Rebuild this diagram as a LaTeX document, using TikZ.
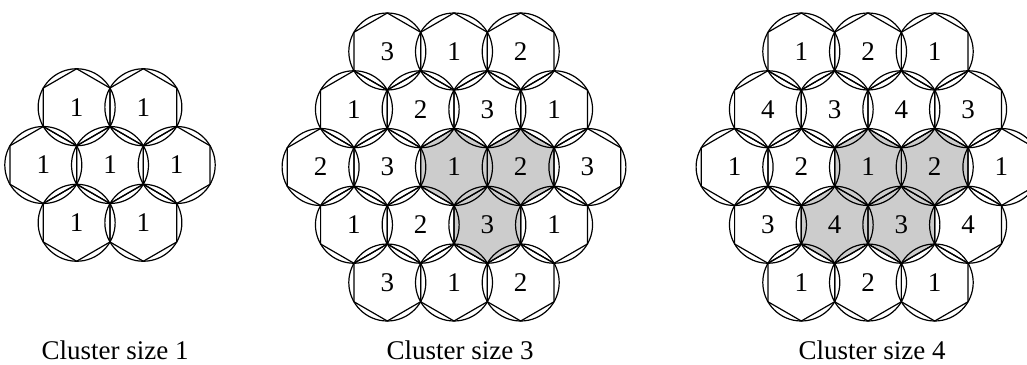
\documentclass[tikz,border=0pt]{standalone}
\usepackage{fontspec}
\setmainfont{Liberation Serif}

\tikzset{
  cellline/.style={line width=0.6pt},
  cellgrey/.style={fill=black!20},
  celltext/.style={font=\fontsize{13.5}{16}\selectfont, inner sep=0pt},
}
% hexagon with its circumscribed circle, centre (#1,#2), radius 38.5
\newcommand{\hexcell}[2]{%
  \draw[cellline] ({#1},{#2}) +(90:38.5) -- +(150:38.5) -- +(210:38.5) -- +(270:38.5)
    -- +(330:38.5) -- +(30:38.5) -- cycle;
  \draw[cellline] ({#1},{#2}) circle (38.5);
}
\newcommand{\hexfill}[2]{%
  \fill[cellgrey] ({#1},{#2}) +(90:38.5) -- +(150:38.5) -- +(210:38.5) -- +(270:38.5)
    -- +(330:38.5) -- +(30:38.5) -- cycle;
}

\begin{document}
\begin{tikzpicture}[x=0.5pt,y=-0.5pt]
\useasboundingbox (0,0) rectangle (1027,364);
\clip (0,0) rectangle (1027,364);

% grey clusters
\foreach \cx/\c/\r in {454/0/0, 454/2/0, 454/1/1, 868/0/0, 868/2/0, 868/-1/1, 868/1/1}
  \hexfill{\cx+(\c)*33.35}{167+(\r)*57.75};

% cluster size 1
\foreach \c/\r/\t in {-1/-1/1, 1/-1/1, -2/0/1, 0/0/1, 2/0/1, -1/1/1, 1/1/1}{
  \hexcell{110+(\c)*33.35}{165+(\r)*57.75}
  \node[celltext] (a\c\r) at ({110+(\c)*33.35},{165+(\r)*57.75}) {\t};
}

% cluster size 3
\foreach \c/\r/\t in {-2/-2/3, 0/-2/1, 2/-2/2,
    -3/-1/1, -1/-1/2, 1/-1/3, 3/-1/1,
    -4/0/2, -2/0/3, 0/0/1, 2/0/2, 4/0/3,
    -3/1/1, -1/1/2, 1/1/3, 3/1/1,
    -2/2/3, 0/2/1, 2/2/2}{
  \hexcell{454+(\c)*33.35}{167+(\r)*57.75}
  \node[celltext] (b\c\r) at ({454+(\c)*33.35},{167+(\r)*57.75}) {\t};
}

% cluster size 4
\foreach \c/\r/\t in {-2/-2/1, 0/-2/2, 2/-2/1,
    -3/-1/4, -1/-1/3, 1/-1/4, 3/-1/3,
    -4/0/1, -2/0/2, 0/0/1, 2/0/2, 4/0/1,
    -3/1/3, -1/1/4, 1/1/3, 3/1/4,
    -2/2/1, 0/2/2, 2/2/1}{
  \hexcell{868+(\c)*33.35}{167+(\r)*57.75}
  \node[celltext] (d\c\r) at ({868+(\c)*33.35},{167+(\r)*57.75}) {\t};
}

% captions
\node[celltext, anchor=base] (cap1) at (115,359) {Cluster size 1};
\node[celltext, anchor=base] (cap3) at (460,359) {Cluster size 3};
\node[celltext, anchor=base] (cap4) at (872,359) {Cluster size 4};
\end{tikzpicture}
\end{document}
